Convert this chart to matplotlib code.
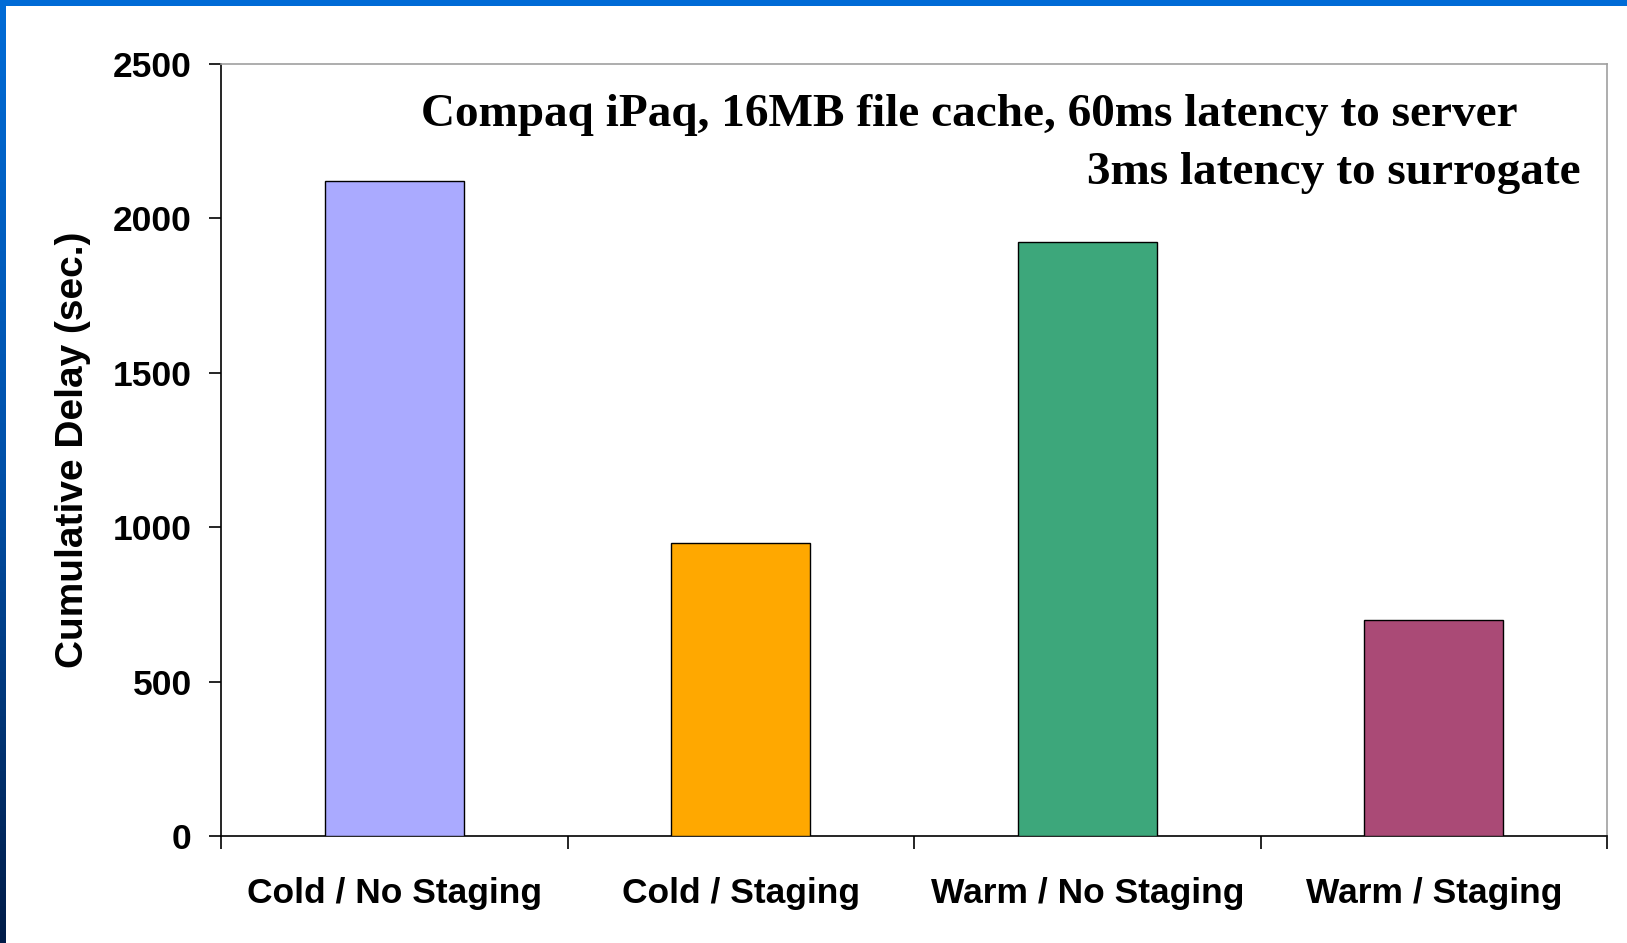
import numpy as np
import matplotlib.pyplot as plt
from matplotlib.ticker import FixedLocator
from matplotlib.colors import LinearSegmentedColormap

# cumulative delay per configuration (seconds)
configs = ['Cold / No Staging', 'Cold / Staging', 'Warm / No Staging', 'Warm / Staging']
delays = [2120, 950, 1925, 700]
bar_colors = ['#AAAAFF', '#FFA800', '#3DA77B', '#AA4A76']
yticks = [0, 500, 1000, 1500, 2000, 2500]

W, H = 1627, 943
fig = plt.figure(figsize=(W / 100, H / 100), dpi=100)
fig.patch.set_facecolor('white')

# slide frame: blue strip along the top, gradient strip down the left edge
top = fig.add_axes([0, 1 - 6 / H, 1, 6 / H])
top.set_facecolor('#006BD6')
top.set_xticks([]); top.set_yticks([])
for s in top.spines.values():
    s.set_visible(False)
side = fig.add_axes([0, 0, 6 / W, 1 - 6 / H])
grad = np.linspace(0, 1, 256).reshape(-1, 1)
cmap = LinearSegmentedColormap.from_list('frame', ['#006BD6', '#0050A8', '#001C48'])
side.imshow(grad, aspect='auto', cmap=cmap, extent=[0, 1, 0, 1], origin='upper')
side.axis('off')

ax = fig.add_axes([221 / W, 107 / H, (1607 - 221) / W, (836 - 64) / H])
x = np.arange(len(configs))
ax.bar(x, delays, width=0.4, color=bar_colors, edgecolor='black', linewidth=1.0, zorder=3)

ax.set_xlim(-0.5, len(configs) - 0.5)
ax.set_ylim(0, 2500)
ax.set_yticks(yticks)
ax.set_yticklabels([str(v) for v in yticks], fontsize=25.5, fontweight='bold',
                   family='Liberation Sans')
ax.tick_params(axis='y', direction='out', length=9, width=1.2, pad=12)

# category labels sit between the boundary ticks
ax.xaxis.set_major_locator(FixedLocator(np.arange(len(configs) + 1) - 0.5))
ax.xaxis.set_minor_locator(FixedLocator(x))
ax.set_xticklabels([], minor=False)
ax.set_xticklabels(configs, minor=True, fontsize=25.5, fontweight='bold',
                   family='Liberation Sans')
ax.tick_params(axis='x', which='major', direction='out', length=9, width=1.2)
ax.tick_params(axis='x', which='minor', length=0, pad=29.5)

for side_name in ['top', 'right']:
    ax.spines[side_name].set_color('#A0A0A0')
    ax.spines[side_name].set_linewidth(1.2)
for side_name in ['left', 'bottom']:
    ax.spines[side_name].set_color('black')
    ax.spines[side_name].set_linewidth(1.2)

ax.set_ylabel('Cumulative Delay (sec.)', fontsize=28, fontweight='bold',
              family='Liberation Sans', labelpad=16)

ax.text(421 / W, 1 - 115 / H, 'Compaq iPaq, 16MB file cache, 60ms latency to server',
        transform=fig.transFigure, ha='left', va='center', fontsize=34,
        fontweight='bold', family='Liberation Serif')
ax.text(1581 / W, 1 - 173 / H, '3ms latency to surrogate',
        transform=fig.transFigure, ha='right', va='center', fontsize=34,
        fontweight='bold', family='Liberation Serif')

fig.savefig('out.png', dpi=100)
